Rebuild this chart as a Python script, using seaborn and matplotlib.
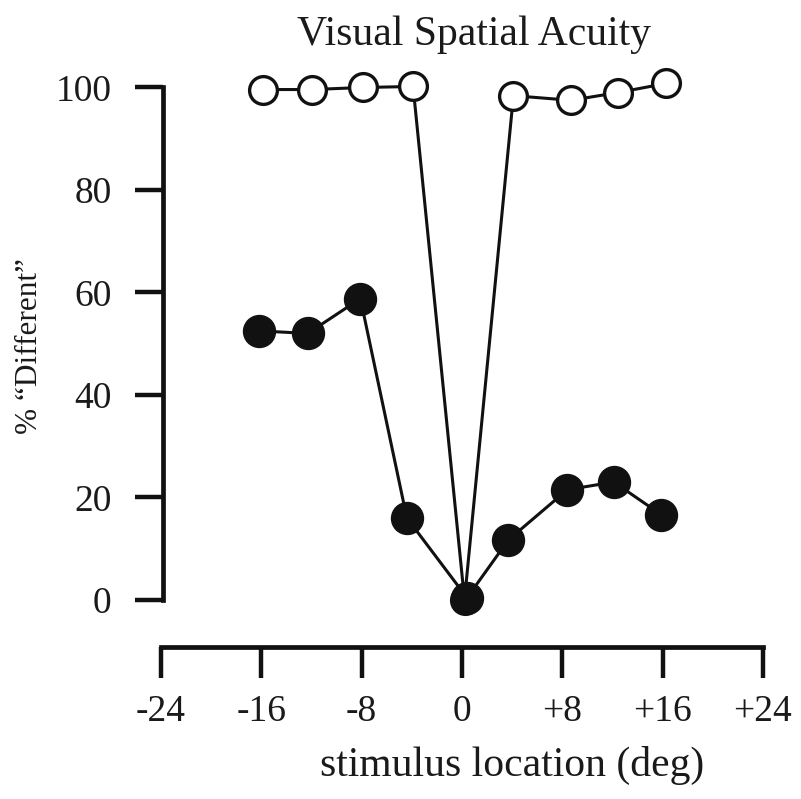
import matplotlib
matplotlib.use("Agg")
import matplotlib.pyplot as plt
import seaborn as sns
import pandas as pd

# Stimulus locations (deg) and percent "different" responses
open_x = [-15.9, -12.0, -7.9, -3.9, 0.2, 4.1, 8.7, 12.4, 16.3]
open_y = [99.6, 99.6, 100.0, 100.2, 0.0, 98.4, 97.5, 99.0, 100.8]

filled_x = [-16.2, -12.3, -8.1, -4.4, 0.4, 3.7, 8.4, 12.1, 15.9]
filled_y = [52.5, 52.0, 58.8, 16.0, 0.4, 11.7, 21.5, 23.0, 16.6]

x_ticks = [-24, -16, -8, 0, 8, 16, 24]
x_tick_labels = ["-24", "-16", "-8", "0", "+8", "+16", "+24"]
y_ticks = [0, 20, 40, 60, 80, 100]

sns.set_theme(style="ticks")
plt.rcParams["font.family"] = ["Liberation Serif", "DejaVu Serif"]

ink = "#111111"
text_color = "#1a1a1a"

fig = plt.figure(figsize=(8.01, 7.99), dpi=100)
ax = fig.add_axes([161 / 801, 1 - 647 / 799, (763 - 161) / 801, (647 - 67) / 799])

open_df = pd.DataFrame({"loc": open_x, "pct": open_y})
filled_df = pd.DataFrame({"loc": filled_x, "pct": filled_y})

sns.lineplot(data=open_df, x="loc", y="pct", sort=False, ax=ax,
             color=ink, lw=2.2, marker="o", markersize=20,
             markerfacecolor="white", markeredgecolor=ink,
             markeredgewidth=2.4, clip_on=False, zorder=3)
# the filled series sits on top, covering the open marker at the origin
sns.lineplot(data=filled_df, x="loc", y="pct", sort=False, ax=ax,
             color=ink, lw=2.2, marker="o", markersize=23,
             markerfacecolor=ink, markeredgecolor=ink,
             markeredgewidth=1, clip_on=False, zorder=4)

ax.set_xlim(-24, 24)
ax.set_ylim(-9.2, 104)

for side in ["top", "right"]:
    ax.spines[side].set_visible(False)
ax.spines["left"].set_bounds(0, 100)
ax.spines["left"].set_position(("data", -23.85))
ax.spines["bottom"].set_bounds(-24, 24)
for side in ["left", "bottom"]:
    ax.spines[side].set_linewidth(3.4)
    ax.spines[side].set_color(ink)
    ax.spines[side].set_capstyle("projecting")

ax.set_xticks(x_ticks)
ax.set_xticklabels(x_tick_labels)
ax.set_yticks(y_ticks)
ax.tick_params(axis="y", direction="out", length=20, width=3.2, color=ink,
               pad=17, labelsize=27, labelcolor=text_color)
ax.tick_params(axis="x", direction="out", length=22, width=3.2, color=ink,
               pad=12, labelsize=27, labelcolor=text_color)
ax.set_xlabel("")
ax.set_ylabel("")

fig.text(474 / 801, 1 - 35 / 799, "Visual Spatial Acuity", ha="center",
         va="center", fontsize=30, color=text_color)
fig.text(512 / 801, 1 - 765 / 799, "stimulus location (deg)", ha="center",
         va="center", fontsize=30, color=text_color)
fig.text(30 / 801, 1 - 346 / 799, "% \u201cDifferent\u201d", ha="center",
         va="center", rotation=90, fontsize=22.5, color=text_color)

fig.savefig("out.png", dpi=100, facecolor="white")
